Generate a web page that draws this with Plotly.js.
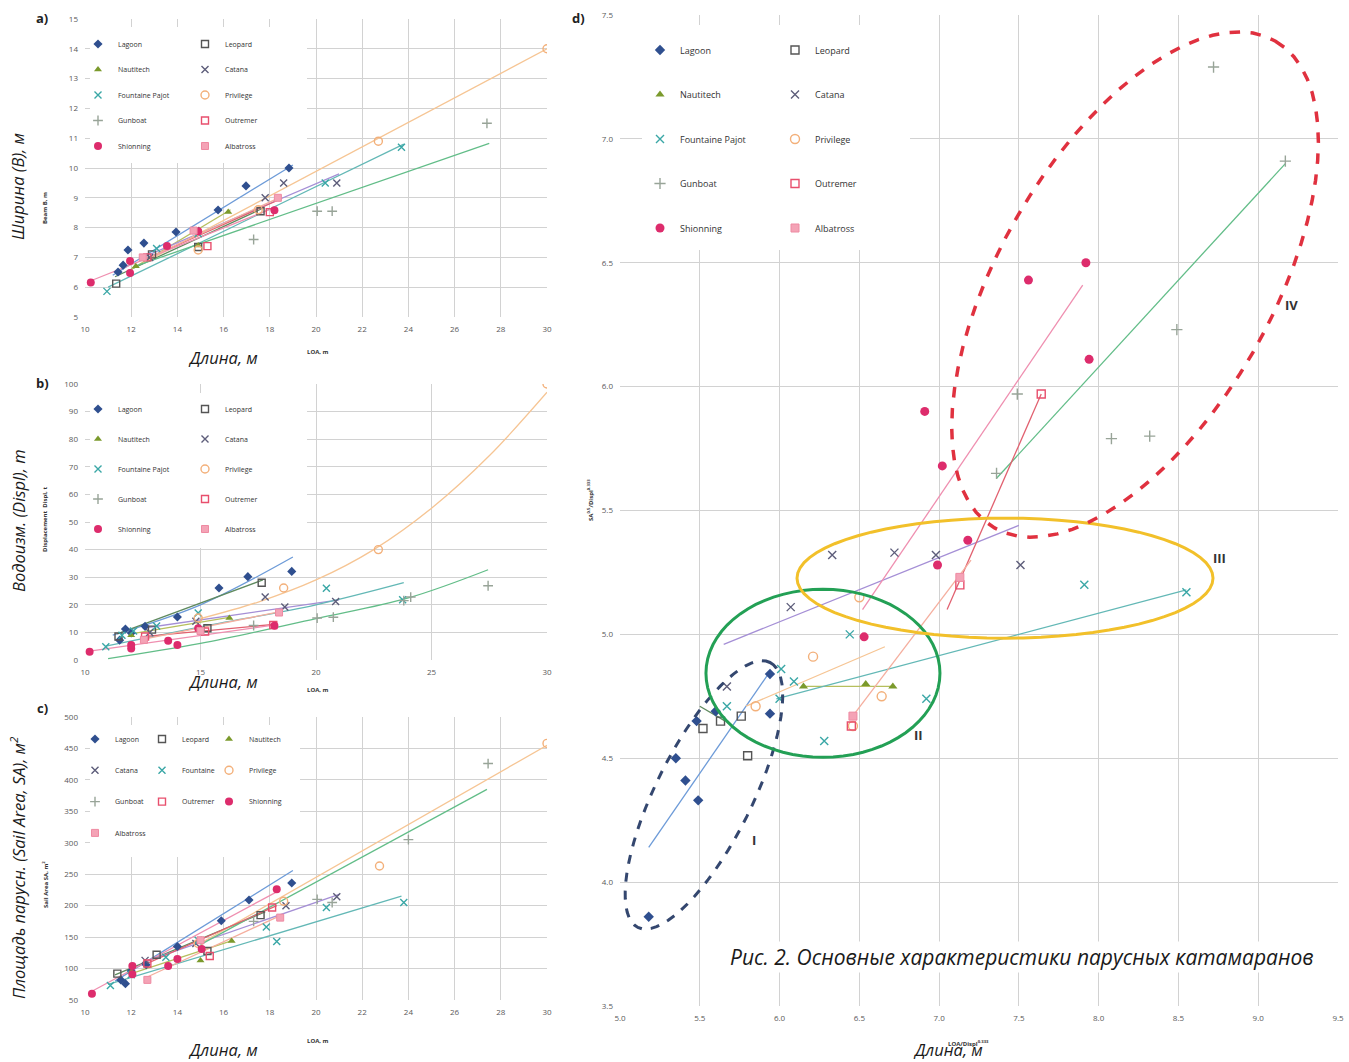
<!DOCTYPE html>
<html><head><meta charset="utf-8">
<script src="https://cdn.plot.ly/plotly-3.0.1.min.js"></script>
<style>html,body{margin:0;padding:0;background:#fff}#chart{width:1349px;height:1062px}</style>
</head><body><div id="chart"></div>
<script>
// ---------- DATA ----------
const SERIES = ['Lagoon','Leopard','Nautitech','Catana','Fountaine Pajot','Privilege','Gunboat','Outremer','Shionning','Albatross'];

// a) LOA (m) vs Beam B (m)
const aLagoon    = [[11.43,6.51],[11.65,6.74],[11.86,7.25],[12.55,7.48],[13.94,7.85],[15.76,8.59],[16.97,9.40],[18.83,10.0]];
const aLagoonT   = [[11.2,6.4],[19.0,10.1]];
const aLeopard   = [[11.35,6.12],[12.9,7.1],[14.9,7.35],[17.6,8.55]];
const aLeopardT  = [[11.3,6.35],[17.7,8.65]];
const aNautitech = [[12.2,6.7],[14.9,7.4],[16.2,8.52]];
const aNautitechT= [[12.0,6.6],[16.3,8.6]];
const aCatana    = [[12.8,7.0],[14.8,7.9],[17.8,9.0],[18.6,9.5],[20.9,9.5]];
const aCatanaT   = [[12.5,7.0],[21.0,9.8]];
const aFountaine = [[10.95,5.86],[13.1,7.3],[14.9,7.8],[20.4,9.5],[23.7,10.7]];
const aFountaineT= [[11.0,6.0],[23.8,10.8]];
const aPrivilege = [[14.9,7.25],[17.5,8.6],[22.7,10.9],[30.0,14.0]];
const aPrivilegeT= [[12.5,6.8],[30.0,14.0]];
const aGunboat   = [[17.3,7.6],[20.05,8.55],[20.7,8.55],[27.4,11.5]];
const aGunboatT  = [[12.15,6.7],[27.5,10.83]];
const aOutremer  = [[12.7,7.0],[15.3,7.38],[18.0,8.52]];
const aOutremerT = [[12.5,6.9],[18.3,8.9]];
const aShionning = [[10.25,6.16],[11.95,6.48],[11.95,6.88],[13.55,7.38],[14.9,7.88],[18.2,8.58]];
const aShionningT= [[10.2,6.2],[18.3,8.7]];
const aAlbatross = [[12.5,7.0],[14.7,7.9],[18.35,9.0]];
const aAlbatrossT= [[12.5,6.9],[18.4,9.0]];

// b) LOA (m) vs Displacement (t)
const bLagoon    = [[11.5,7.2],[11.75,11.2],[12.0,9.8],[12.6,12.2],[14.0,15.6],[15.8,26.1],[17.05,30.2],[18.95,32.1]];
const bLagoonT   = [[11.2,9.0],[15.0,20.0],[19.0,37.3]];
const bLeopard   = [[11.45,8.5],[12.9,11.0],[15.3,11.5],[17.65,28.0]];
const bLeopardT  = [[11.4,9.5],[17.7,29.0]];
const bNautitech = [[12.0,9.0],[14.9,12.0],[16.25,15.2]];
const bNautitechT= [[12.0,9.5],[16.3,15.5]];
const bCatana    = [[12.8,10.0],[14.8,14.0],[17.8,22.8],[18.65,19.2],[20.85,21.2]];
const bCatanaT   = [[12.5,11.5],[21.0,21.8]];
const bFountaine = [[10.9,4.8],[11.6,9.0],[12.1,10.5],[13.1,12.3],[14.9,17.0],[20.45,26.0],[23.75,21.8]];
const bFountaineT= [[10.9,5.0],[15.0,12.0],[20.0,20.0],[23.8,28.0]];
const bPrivilege = [[14.9,15.2],[18.6,26.1],[22.7,40.0],[30.0,100.0]];
const bPrivilegeT= [[15.0,15.0],[17.5,21.0],[20.0,29.0],[22.5,40.0],[25.0,55.0],[27.5,74.0],[30.0,97.0]];
const bGunboat   = [[17.3,12.5],[20.05,15.2],[20.75,15.5],[23.8,21.5],[24.1,22.8],[27.45,26.9]];
const bGunboatT  = [[11.0,0.5],[15.0,6.0],[20.0,15.0],[24.0,22.5],[27.45,32.7]];
const bOutremer  = [[12.6,8.5],[15.2,10.3],[18.15,12.7]];
const bOutremerT = [[12.5,8.5],[18.3,13.0]];
const bShionning = [[10.2,3.0],[12.0,4.2],[12.0,5.4],[13.6,7.0],[14.0,5.4],[14.9,11.5],[18.2,12.4]];
const bShionningT= [[10.2,3.2],[18.3,12.8]];
const bAlbatross = [[12.55,7.3],[15.0,10.5],[18.4,17.2]];
const bAlbatrossT= [[12.5,7.5],[18.5,17.6]];

// c) LOA (m) vs Sail Area (m2)
const cLagoon    = [[11.55,82],[11.75,76],[12.0,96],[12.65,106],[14.0,135],[15.9,176],[17.1,209],[18.95,236]];
const cLagoonT   = [[11.3,80],[19.0,256]];
const cLeopard   = [[11.4,92],[13.1,122],[15.3,128],[17.6,185]];
const cLeopardT  = [[11.3,90],[17.8,190]];
const cNautitech = [[12.0,95],[15.0,113],[16.35,144]];
const cNautitechT= [[12.0,92],[16.4,145]];
const cCatana    = [[12.6,113],[14.8,140],[18.7,200],[20.9,214]];
const cCatanaT   = [[12.5,110],[21.0,218]];
const cFountaine = [[11.1,73],[12.0,90],[13.5,118],[14.9,145],[17.85,166],[18.3,143],[20.45,197],[23.8,205]];
const cFountaineT= [[11.0,75],[23.7,215]];
const cPrivilege = [[14.9,140],[18.6,207],[22.75,263],[30.0,458]];
const cPrivilegeT= [[15.0,140],[30.0,455]];
const cGunboat   = [[17.3,175],[20.05,210],[20.7,205],[24.0,305],[27.45,426]];
const cGunboatT  = [[15.0,138],[27.4,385]];
const cOutremer  = [[12.7,108],[15.4,120],[18.1,197]];
const cOutremerT = [[12.5,105],[18.3,200]];
const cShionning = [[10.3,60],[12.05,104],[12.05,91],[13.6,104],[14.0,115],[15.05,131],[18.3,226]];
const cShionningT= [[10.2,62],[18.3,222]];
const cAlbatross = [[12.7,82],[15.0,145],[18.45,181]];
const cAlbatrossT= [[12.6,85],[18.5,185]];

// d) LOA/Displ^0.333 vs SA^0.5/Displ^0.333
const dLagoon    = [[5.18,3.86],[5.35,4.50],[5.41,4.41],[5.48,4.65],[5.49,4.33],[5.60,4.69],[5.94,4.68],[5.94,4.84]];
const dLagoonT   = [[5.18,4.14],[5.94,4.85]];
const dLeopard   = [[5.52,4.62],[5.63,4.65],[5.76,4.67],[5.80,4.51]];
const dLeopardT  = [[5.50,4.71],[5.66,4.65]];
const dNautitech = [[6.15,4.79],[6.54,4.80],[6.71,4.79]];
const dNautitechT= [[6.15,4.79],[6.72,4.79]];
const dCatana    = [[5.67,4.79],[6.07,5.11],[6.33,5.32],[6.72,5.33],[6.98,5.32],[7.51,5.28]];
const dCatanaT   = [[5.65,4.96],[7.50,5.44]];
const dFountaine = [[5.67,4.71],[6.00,4.74],[6.01,4.86],[6.09,4.81],[6.28,4.57],[6.44,5.00],[6.92,4.74],[7.91,5.20],[8.55,5.17]];
const dFountaineT= [[5.98,4.74],[8.55,5.18]];
const dPrivilege = [[5.85,4.71],[6.21,4.91],[6.46,4.63],[6.50,5.15],[6.64,4.75]];
const dPrivilegeT= [[5.79,4.71],[6.66,4.95]];
const dGunboat   = [[7.36,5.65],[7.49,5.97],[8.08,5.79],[8.32,5.80],[8.49,6.23],[8.72,7.29],[9.17,6.91]];
const dGunboatT  = [[7.36,5.63],[9.17,6.90]];
const dOutremer  = [[6.45,4.63],[7.13,5.20],[7.64,5.97]];
const dOutremerT = [[7.05,5.10],[7.64,5.97]];
const dShionning = [[6.53,4.99],[6.91,5.90],[6.99,5.28],[7.02,5.68],[7.18,5.38],[7.56,6.43],[7.92,6.50],[7.94,6.11]];
const dShionningT= [[6.52,5.10],[7.90,6.41]];
const dAlbatross = [[6.46,4.67],[7.13,5.23]];
const dAlbatrossT= [[6.47,4.68],[7.20,5.30]];

// Ellipse groups in panel d (centre in data units, semi-axes in px, tilt in degrees)
const ELLIPSE_LABELS = ['I','II','III','IV'];
const ellCenters = [[5.526,4.352],[6.272,4.843],[7.413,5.227],[8.228,6.412]];
const ellAxesPx  = [[148,48],[117,84],[208,60],[281,136]];
const ellTilt    = [63.5,0,0,60];
const ellLabelPos= [[5.84,4.17],[6.87,4.595],[8.76,5.31],[9.21,6.33]];

// ---------- BUILD ----------
const W = 1349, H = 1062;
const px = p => p / W, py = p => 1 - p / H;

const STY = {
  'Lagoon':         {sym:'diamond',         c:'#2f4f8f', lc:'#6d9bd8', size:7},
  'Leopard':        {sym:'square-open',     c:'#555555', lc:'#5f8a5f', size:7},
  'Nautitech':      {sym:'triangle-up',     c:'#7b9a2c', lc:'#b6bf5e', size:7},
  'Catana':         {sym:'x-thin-open',     c:'#5d5d7a', lc:'#a58fd6', size:7},
  'Fountaine Pajot':{sym:'x-thin-open',     c:'#3aa7a6', lc:'#63b8b6', size:7},
  'Privilege':      {sym:'circle-open',     c:'#f3b07a', lc:'#f6c594', size:8},
  'Gunboat':        {sym:'cross-thin-open', c:'#98a498', lc:'#62bd88', size:7},
  'Outremer':       {sym:'square-open',     c:'#e84f6d', lc:'#e1606f', size:7},
  'Shionning':      {sym:'circle',          c:'#dd2c6c', lc:'#ef8fb0', size:8},
  'Albatross':      {sym:'square',          c:'#f4a3b6', lc:'#f5ae9e', size:7}
};

const CHARTS = {
  a:{xa:'x',  ya:'y',  pts:[aLagoon,aLeopard,aNautitech,aCatana,aFountaine,aPrivilege,aGunboat,aOutremer,aShionning,aAlbatross],
               tr:[aLagoonT,aLeopardT,aNautitechT,aCatanaT,aFountaineT,aPrivilegeT,aGunboatT,aOutremerT,aShionningT,aAlbatrossT]},
  b:{xa:'x2', ya:'y2', pts:[bLagoon,bLeopard,bNautitech,bCatana,bFountaine,bPrivilege,bGunboat,bOutremer,bShionning,bAlbatross],
               tr:[bLagoonT,bLeopardT,bNautitechT,bCatanaT,bFountaineT,bPrivilegeT,bGunboatT,bOutremerT,bShionningT,bAlbatrossT]},
  c:{xa:'x3', ya:'y3', pts:[cLagoon,cLeopard,cNautitech,cCatana,cFountaine,cPrivilege,cGunboat,cOutremer,cShionning,cAlbatross],
               tr:[cLagoonT,cLeopardT,cNautitechT,cCatanaT,cFountaineT,cPrivilegeT,cGunboatT,cOutremerT,cShionningT,cAlbatrossT]},
  d:{xa:'x4', ya:'y4', pts:[dLagoon,dLeopard,dNautitech,dCatana,dFountaine,dPrivilege,dGunboat,dOutremer,dShionning,dAlbatross],
               tr:[dLagoonT,dLeopardT,dNautitechT,dCatanaT,dFountaineT,dPrivilegeT,dGunboatT,dOutremerT,dShionningT,dAlbatrossT]}
};

// which legend (column) each series goes to
const LEG = {
  a: i => [0,2,4,6,8].includes(i) ? 'legend'  : 'legend2',
  b: i => [0,2,4,6,8].includes(i) ? 'legend3' : 'legend4',
  c: i => [0,3,6,9].includes(i) ? 'legend5' : ([1,4,7].includes(i) ? 'legend6' : 'legend7'),
  d: i => [0,2,4,6,8].includes(i) ? 'legend8' : 'legend9'
};

const traces = [];
['a','b','c','d'].forEach(k => {
  const ch = CHARTS[k];
  SERIES.forEach((name, i) => {
    const s = STY[name];
    const T = ch.tr[i];
    traces.push({type:'scatter', mode:'lines', xaxis:ch.xa, yaxis:ch.ya,
      x:T.map(p=>p[0]), y:T.map(p=>p[1]), line:{color:s.lc, width:1.3, shape: T.length>2?'spline':'linear'},
      showlegend:false, hoverinfo:'skip', legendgroup:k+name, legend:LEG[k](i)});
  });
  SERIES.forEach((name, i) => {
    const s = STY[name];
    const P = ch.pts[i];
    const open = s.sym.indexOf('open')>=0;
    const label = (k==='c' && name==='Fountaine Pajot') ? 'Fountaine' : name;
    traces.push({type:'scatter', mode:'markers', xaxis:ch.xa, yaxis:ch.ya, name:label,
      x:P.map(p=>p[0]), y:P.map(p=>p[1]),
      marker:{symbol:s.sym, color:s.c, size:(k==='d'? s.size+1 : s.size),
              line: open ? {color:s.c, width:1.4} : {color: name==='Albatross' ? '#ee8aa2' : s.c, width: name==='Albatross'?1:0}},
      legendgroup:k+name, legend:LEG[k](i), hoverinfo:'x+y+name'});
  });
});

// ---------- LAYOUT ----------
const tickFont = {family:'Open Sans', size:8, color:'#595959'};
function axis(range, dtick, dom, anchor, fmt){
  const o = {range:range, dtick:dtick, tick0:range[0], domain:dom, anchor:anchor,
    showgrid:true, gridcolor:'#d2d2d2', gridwidth:1, zeroline:false, showline:false,
    ticks:'', tickfont:tickFont, fixedrange:true, ticklabelstandoff:6};
  if (fmt) o.tickformat = fmt;
  return o;
}
const xDomL = [px(85), px(547)];
const xDomR = [px(620), px(1338)];
const yDomA = [py(317), py(19)];
const yDomB = [py(660), py(384)];
const yDomC = [py(1000), py(717)];
const yDomD = [py(1006), py(15)];

function leg(leftPx, topPx, size, gap){
  return {x:px(leftPx), y:py(topPx), xanchor:'left', yanchor:'top', xref:'paper', yref:'paper',
    bgcolor:'rgba(0,0,0,0)', borderwidth:0, orientation:'v', traceorder:'grouped',
    tracegroupgap:gap, font:{family:'Open Sans', size:size, color:'#333'}};
}

// white legend boxes (mask the grid), page px
function mask(x0, x1, y0, y1){
  return {type:'rect', xref:'paper', yref:'paper', x0:px(x0), x1:px(x1), y0:py(y1), y1:py(y0),
    fillcolor:'#ffffff', line:{width:0}, layer:'above'};
}

// ellipses in panel d
const dRangeX=[5,9.5], dRangeY=[3.5,7.5];
function dToPx(x,y){
  const X = W*(xDomR[0] + (x-dRangeX[0])/(dRangeX[1]-dRangeX[0])*(xDomR[1]-xDomR[0]));
  const Y = H*(1 - (yDomD[0] + (y-dRangeY[0])/(dRangeY[1]-dRangeY[0])*(yDomD[1]-yDomD[0])));
  return [X,Y];
}
function ellipsePath(c, ab, tilt){
  const [cx,cy] = dToPx(c[0],c[1]);
  const th = tilt*Math.PI/180, a=ab[0], b=ab[1];
  let d='';
  for(let k=0;k<72;k++){
    const t = k/72*2*Math.PI;
    const X = cx + a*Math.cos(t)*Math.cos(th) + b*Math.sin(t)*Math.sin(th);
    const Y = cy - a*Math.cos(t)*Math.sin(th) + b*Math.sin(t)*Math.cos(th);
    d += (k===0?'M':'L') + px(X).toFixed(5) + ',' + py(Y).toFixed(5) + ' ';
  }
  return d + 'Z';
}
const ellStyle = [
  {color:'#34476f', width:3, dash:'dash'},
  {color:'#23a055', width:3, dash:'solid'},
  {color:'#f2c02a', width:3, dash:'solid'},
  {color:'#e0313f', width:3.5, dash:'dash'}
];
const shapes = [];
ELLIPSE_LABELS.forEach((lab,i)=>{
  shapes.push({type:'path', xref:'paper', yref:'paper', path:ellipsePath(ellCenters[i], ellAxesPx[i], ellTilt[i]),
    line:ellStyle[i], fillcolor:'rgba(0,0,0,0)', layer:'above'});
});
shapes.push(mask(90, 307, 27, 163), mask(90, 307, 393, 548), mask(90, 300, 725, 857), mask(642, 910, 25, 250));

const ru = {family:'Open Sans', size:16.5, color:'#1a1a1a'};
const tiny = {family:'Open Sans', size:6, color:'#333'};
function ann(text, x, y, font, extra){
  return Object.assign({text:text, x:px(x), y:py(y), xref:'paper', yref:'paper', showarrow:false,
    xanchor:'center', yanchor:'middle', font:font}, extra||{});
}
const annotations = [
  ann('<b>a)</b>', 42, 18, {family:'Open Sans', size:13, color:'#222'}),
  ann('<b>b)</b>', 42, 383, {family:'Open Sans', size:13, color:'#222'}),
  ann('<b>c)</b>', 42, 708, {family:'Open Sans', size:13, color:'#222'}),
  ann('<b>d)</b>', 578, 18, {family:'Open Sans', size:13, color:'#222'}),
  ann('<b>Beam B, m</b>', 45, 208, tiny, {textangle:-90}),
  ann('<b>LOA, m</b>', 318, 352, tiny),
  ann('<b>Displacement  Displ, t</b>', 45, 520, tiny, {textangle:-90}),
  ann('<b>LOA, m</b>', 318, 690, tiny),
  ann('<b>Sail Area SA, m<sup>2</sup></b>', 45, 885, tiny, {textangle:-90}),
  ann('<b>LOA, m</b>', 318, 1041, tiny),
  ann('<b>SA<sup>0.5</sup>/Displ<sup>0.333</sup></b>', 590, 500, tiny, {textangle:-90}),
  ann('<b>LOA/Displ<sup>0.333</sup></b>', 968, 1043, tiny),
  ann('<i>Ширина (B), м</i>', 18, 187, ru, {textangle:-90}),
  ann('<i>Водоизм. (Displ), т</i>', 18, 521, ru, {textangle:-90}),
  ann('<i>Площадь парусн. (Sail Area, SA), м<sup>2</sup></i>', 18, 868, ru, {textangle:-90}),
  ann('<i>Длина, м</i>', 223, 357, ru),
  ann('<i>Длина, м</i>', 223, 681, ru),
  ann('<i>Длина, м</i>', 223, 1049, ru),
  ann('<i>Длина, м</i>', 948, 1049, ru),
  ann('<i>Рис. 2. Основные характеристики парусных катамаранов</i>', 1022, 957,
      {family:'Open Sans', size:21, color:'#1a1a1a'}, {bgcolor:'#ffffff'})
];
ELLIPSE_LABELS.forEach((lab,i)=>{
  annotations.push({text:'<b>'+lab+'</b>', x:ellLabelPos[i][0], y:ellLabelPos[i][1], xref:'x4', yref:'y4',
    showarrow:false, font:{family:'Open Sans', size:13, color:'#333'}});
});

const layout = {
  width:W, height:H, margin:{l:0,r:0,t:0,b:0}, paper_bgcolor:'#fff', plot_bgcolor:'#fff',
  showlegend:true, hovermode:'closest',
  xaxis:  axis([10,30], 2, xDomL, 'y'),
  yaxis:  axis([5,15], 1, yDomA, 'x'),
  xaxis2: axis([10,30], 5, xDomL, 'y2'),
  yaxis2: axis([0,100], 10, yDomB, 'x2'),
  xaxis3: axis([10,30], 2, xDomL, 'y3'),
  yaxis3: axis([50,500], 50, yDomC, 'x3'),
  xaxis4: axis([5,9.5], 0.5, xDomR, 'y4', '.1f'),
  yaxis4: axis([3.5,7.5], 0.5, yDomD, 'x4', '.1f'),
  legend:  leg(78, 29.5, 7, 6.5),
  legend2: leg(185, 29.5, 7, 6.5),
  legend3: leg(78, 394.5, 7, 11),
  legend4: leg(185, 394.5, 7, 11),
  legend5: leg(75, 724.5, 7, 12.3),
  legend6: leg(142, 724.5, 7, 12.3),
  legend7: leg(209, 724.5, 7, 12.3),
  legend8: leg(640, 35.5, 9, 25.5),
  legend9: leg(775, 35.5, 9, 25.5),
  shapes: shapes,
  annotations: annotations
};

Plotly.newPlot('chart', traces, layout, {displayModeBar:false, responsive:false});
</script>
</body></html>
